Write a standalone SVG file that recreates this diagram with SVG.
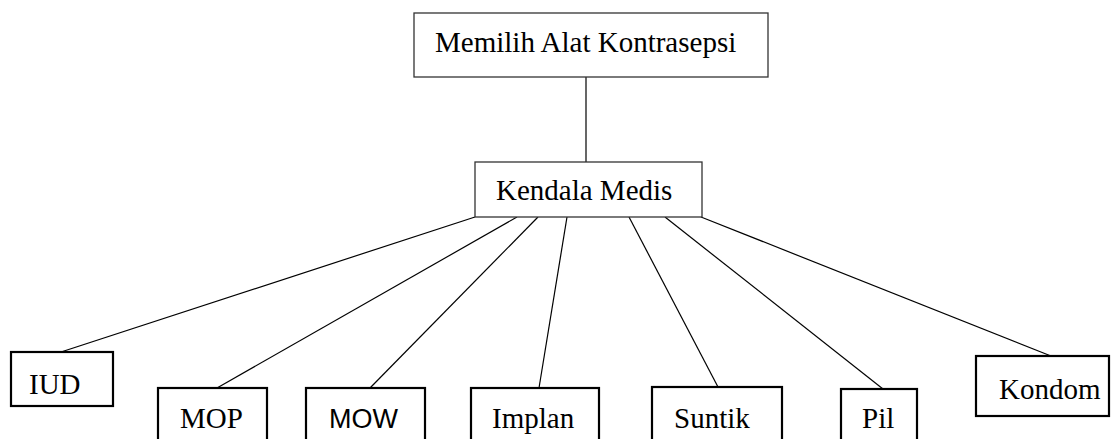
<svg xmlns="http://www.w3.org/2000/svg" width="1112" height="439" viewBox="0 0 1112 439">
<style>
.bg{fill:#fff}
.top{fill:#fff;stroke:#333;stroke-width:1.3}
.leaf{fill:#fff;stroke:#000;stroke-width:2.2}
.t{font-family:"Liberation Serif","Times New Roman",serif;font-size:29px;fill:#000}
.s{font-family:"Liberation Sans",Arial,sans-serif;font-size:27px;fill:#000}
.c{stroke:#000;stroke-width:1.2;fill:none}
</style>
<rect class="bg" x="0" y="0" width="1112" height="439"/>
<g id="connectors">
<line class="c" x1="586" y1="77" x2="586" y2="162"/>
<line class="c" x1="475" y1="217" x2="61" y2="352"/>
<line class="c" x1="517" y1="217" x2="217" y2="388"/>
<line class="c" x1="538" y1="217" x2="370" y2="388"/>
<line class="c" x1="567" y1="217" x2="539" y2="388"/>
<line class="c" x1="629" y1="217" x2="718" y2="387"/>
<line class="c" x1="665" y1="217" x2="883" y2="389"/>
<line class="c" x1="701" y1="217" x2="1051" y2="356"/>
</g>
<g id="node-root"><rect class="top" x="414" y="13" width="354" height="64"/><text class="t" x="435" y="52">Memilih Alat Kontrasepsi</text></g>
<g id="node-kendala"><rect class="top" x="475" y="162" width="227" height="55"/><text class="t" x="496" y="200">Kendala Medis</text></g>
<g id="node-iud"><rect class="leaf" x="11" y="352" width="102" height="54"/><text class="t" x="29" y="394">IUD</text></g>
<g id="node-mop"><rect class="leaf" x="158" y="388" width="109" height="70"/><text class="t" x="180" y="428">MOP</text></g>
<g id="node-mow"><rect class="leaf" x="306" y="388" width="119" height="70"/><text class="s" x="329" y="428">MOW</text></g>
<g id="node-implan"><rect class="leaf" x="471" y="388" width="128" height="70"/><text class="t" x="492" y="428">Implan</text></g>
<g id="node-suntik"><rect class="leaf" x="652" y="387" width="130" height="70"/><text class="t" x="674" y="428">Suntik</text></g>
<g id="node-pil"><rect class="leaf" x="841" y="389" width="76" height="70"/><text class="t" x="862" y="428">Pil</text></g>
<g id="node-kondom"><rect class="leaf" x="976" y="356" width="133" height="60"/><text class="t" x="999" y="399">Kondom</text></g>
</svg>
